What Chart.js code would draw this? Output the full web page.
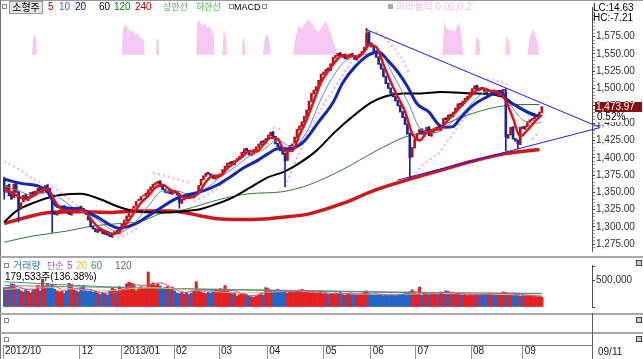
<!DOCTYPE html>
<html>
<head>
<meta charset="utf-8">
<script src="https://cdn.jsdelivr.net/npm/chart.js@4.4.1/dist/chart.umd.min.js"></script>
<style>
  body { margin: 0; background: #fff; }
  #wrap { position: relative; width: 643px; height: 359px; overflow: hidden; background: #fff;
          font-family: 'Liberation Sans', 'Noto Sans CJK KR', sans-serif; font-size: 10px; }
  canvas { position: absolute; left: 0; }
  .t { position: absolute; white-space: nowrap; line-height: 12px; }
  .k { font-size: 9px; }
  .hl { position: absolute; left: 0; width: 643px; height: 2px; background: #a8a8a8; }
  .sq { position: absolute; width: 3px; height: 3px; border: 1px solid #888; }
  .xb { position: absolute; left: 636px; width: 4px; height: 4px; border: 1px solid #444; background: #ccc; }
</style>
</head>
<body>
<div id="wrap">
  <canvas id="priceChart" width="643" height="258" style="top:0"></canvas>
  <canvas id="volChart" width="643" height="56" style="top:258px"></canvas>
  <canvas id="axisChart" width="643" height="25" style="top:334px"></canvas>

  <div style="position:absolute;left:0;top:0;width:643px;height:1px;background:#999"></div>
  <div style="position:absolute;left:0;top:0;width:1px;height:359px;background:#777"></div>
  <div class="hl" style="top:256px"></div>
  <div class="hl" style="top:313px"></div>
  <div class="hl" style="top:332px"></div>
  <div style="position:absolute;left:592px;top:313px;width:1px;height:46px;background:#606060"></div>

  <!-- top legend -->
  <div class="sq" style="left:2px;top:4px"></div>
  <div class="t" style="left:9px;top:1px;width:32px;height:11px;border:1px solid #999;background:#e6e6e6;text-align:center">소형주</div>
  <div class="t" style="left:48px;top:1px;color:#c00000">5</div>
  <div class="t" style="left:59px;top:1px;color:#4a64b4">10</div>
  <div class="t" style="left:75px;top:1px;color:#000080">20</div>
  <div class="t" style="left:99px;top:1px;color:#000">60</div>
  <div class="t" style="left:114px;top:1px;color:#008000">120</div>
  <div class="t" style="left:135px;top:1px;color:#c00000">240</div>
  <div class="t k" style="left:163px;top:1px;color:#44b844">상한선</div>
  <div class="t k" style="left:196px;top:1px;color:#44b844">하한선</div>
  <div class="sq" style="left:229px;top:4px"></div>
  <div class="t" style="left:234px;top:1px;color:#000;font-size:9px">MACD</div>
  <div class="sq" style="left:262px;top:4px"></div>
  <div class="sq" style="left:388px;top:4px;background:#aaa;border-color:#aaa"></div>
  <div class="t" style="left:396px;top:1px;color:#f2c0ee">파라볼릭 0.02,0.2</div>
  <div class="t" style="left:593px;top:2px;color:#000">LC:14.63</div>
  <div class="t" style="left:593px;top:12px;color:#000">HC:-7.21</div>

  <!-- volume legend -->
  <div class="sq" style="left:4px;top:263px"></div>
  <div class="t" style="left:13px;top:260px;color:#3d86a8">거래량</div>
  <div class="t k" style="left:47px;top:260px;color:#b64cb6">단순</div>
  <div class="t" style="left:67px;top:260px;color:#b64cb6">5</div>
  <div class="t" style="left:76px;top:260px;color:#d4c43c">20</div>
  <div class="t" style="left:91px;top:260px;color:#3c9068">60</div>
  <div class="t" style="left:115px;top:260px;color:#666">120</div>
  <div class="t" style="left:5px;top:271px;color:#000">179,533주(136.38%)</div>
  <div class="xb" style="top:260px"></div>

  <!-- empty panels -->
  <div class="sq" style="left:4px;top:318px"></div>
  <div class="xb" style="top:317px"></div>
  <div class="sq" style="left:4px;top:337px"></div>
  <div class="xb" style="top:336px"></div>
  <div class="t" style="left:598px;top:346px;color:#202020">09/11</div>
</div>
<script>
// daily candles, index 0 = first visible day (mid Oct 2012) ... 224 = 2013/09/11
const opens = [
  1370, 1350, 1362, 1348, 1342, 1364, 1350, 1326, 1336, 1347,
  1338, 1343, 1351, 1345, 1351, 1357, 1349, 1353, 1361, 1356,
  1346, 1323, 1317, 1319, 1323, 1331, 1327, 1323, 1317, 1322,
  1328, 1323, 1330, 1327, 1323, 1319, 1311, 1301, 1298, 1292,
  1298, 1295, 1289, 1294, 1289, 1285, 1289, 1295, 1290, 1297,
  1303, 1309, 1315, 1321, 1327, 1330, 1338, 1339, 1345, 1345,
  1348, 1353, 1357, 1361, 1363, 1367, 1359, 1355, 1349, 1353,
  1347, 1353, 1350, 1347, 1334, 1339, 1345, 1341, 1347, 1342,
  1347, 1351, 1360, 1368, 1373, 1379, 1377, 1375, 1369, 1371,
  1374, 1376, 1382, 1387, 1391, 1395, 1390, 1395, 1398, 1401,
  1407, 1414, 1411, 1403, 1405, 1411, 1415, 1419, 1425, 1421,
  1427, 1432, 1438, 1431, 1421, 1417, 1411, 1406, 1396, 1411,
  1417, 1421, 1429, 1440, 1445, 1451, 1459, 1468, 1481, 1492,
  1497, 1502, 1511, 1520, 1523, 1530, 1526, 1535, 1544, 1547,
  1552, 1545, 1550, 1542, 1544, 1551, 1548, 1541, 1545, 1549,
  1553, 1560, 1582, 1566, 1561, 1555, 1546, 1536, 1529, 1518,
  1508, 1501, 1494, 1489, 1483, 1476, 1467, 1459, 1449, 1435,
  1401, 1414, 1426, 1434, 1442, 1433, 1439, 1445, 1431, 1436,
  1440, 1445, 1439, 1445, 1458, 1454, 1463, 1459, 1465, 1471,
  1479, 1475, 1481, 1485, 1488, 1494, 1499, 1505, 1497, 1502,
  1500, 1497, 1491, 1492, 1498, 1497, 1489, 1492, 1496, 1495,
  1428, 1433, 1445, 1428, 1425, 1419, 1445, 1441, 1445, 1451,
  1454, 1456, 1461, 1461, 1465
];
const closes = [
  1352, 1360, 1345, 1340, 1362, 1350, 1325, 1335, 1346, 1340,
  1344, 1350, 1346, 1352, 1356, 1350, 1354, 1360, 1355, 1345,
  1322, 1318, 1320, 1324, 1330, 1326, 1322, 1318, 1323, 1327,
  1324, 1329, 1326, 1322, 1318, 1310, 1300, 1297, 1293, 1297,
  1294, 1290, 1293, 1288, 1286, 1290, 1294, 1291, 1298, 1304,
  1310, 1316, 1322, 1326, 1330, 1337, 1340, 1344, 1346, 1349,
  1354, 1358, 1362, 1364, 1366, 1358, 1354, 1350, 1352, 1348,
  1352, 1349, 1346, 1335, 1340, 1344, 1342, 1346, 1343, 1348,
  1350, 1360, 1369, 1374, 1378, 1376, 1374, 1370, 1372, 1375,
  1377, 1383, 1388, 1392, 1394, 1391, 1396, 1399, 1402, 1408,
  1413, 1410, 1404, 1406, 1412, 1416, 1420, 1424, 1422, 1428,
  1433, 1437, 1430, 1420, 1416, 1410, 1405, 1395, 1412, 1418,
  1420, 1430, 1441, 1446, 1452, 1460, 1469, 1482, 1493, 1498,
  1503, 1512, 1521, 1524, 1528, 1527, 1536, 1545, 1548, 1551,
  1546, 1549, 1543, 1545, 1550, 1547, 1542, 1546, 1550, 1554,
  1560, 1580, 1565, 1560, 1554, 1545, 1535, 1528, 1517, 1507,
  1500, 1493, 1488, 1482, 1475, 1466, 1458, 1448, 1434, 1400,
  1415, 1427, 1435, 1441, 1434, 1440, 1444, 1432, 1437, 1441,
  1444, 1440, 1446, 1457, 1455, 1462, 1460, 1466, 1472, 1478,
  1476, 1482, 1486, 1489, 1495, 1500, 1504, 1498, 1501, 1499,
  1496, 1492, 1493, 1497, 1496, 1490, 1493, 1497, 1499, 1430,
  1434, 1444, 1427, 1424, 1420, 1444, 1442, 1446, 1452, 1455,
  1457, 1460, 1462, 1466, 1473.97
];
// long shadows that stand out: [index, low, high]
const wicks = [
  [0, 1340, 1372], [6, 1307, 1352], [20, 1292, 1346], [73, 1327, 1348], [117, 1358, 1407],
  [151, 1560, 1587], [169, 1372, 1436], [209, 1410, 1500], [214, 1413, 1426]
];
// volume in thousands of shares
const volumes = [
  360, 350, 370, 430, 420, 350, 330, 300, 280, 320,
  290, 260, 310, 330, 400, 300, 515, 380, 440, 390,
  420, 330, 300, 280, 290, 250, 300, 440, 420, 320,
  300, 280, 360, 400, 310, 290, 320, 270, 300, 260,
  230, 260, 250, 220, 290, 360, 330, 300, 380, 340,
  310, 430, 460, 440, 420, 300, 340, 380, 350, 370,
  650, 420, 450, 400, 430, 390, 330, 360, 380, 350,
  370, 300, 260, 250, 280, 240, 270, 230, 260, 300,
  470, 290, 280, 260, 250, 270, 260, 300, 330, 320,
  340, 330, 400, 290, 280, 250, 270, 200, 230, 240,
  250, 230, 200, 190, 180, 210, 230, 250, 220, 360,
  340, 300, 280, 310, 330, 290, 300, 270, 260, 280,
  300, 270, 290, 300, 330, 280, 310, 290, 270, 300,
  260, 280, 290, 250, 270, 230, 240, 250, 260, 240,
  270, 230, 220, 250, 260, 240, 230, 220, 240, 230,
  290, 300, 250, 230, 220, 240, 230, 220, 210, 230,
  220, 240, 230, 210, 220, 240, 230, 250, 260, 280,
  320, 270, 240, 370, 220, 250, 240, 230, 260, 240,
  250, 230, 280, 270, 300, 290, 260, 270, 250, 240,
  230, 220, 240, 210, 230, 220, 250, 240, 230, 220,
  240, 230, 260, 250, 230, 220, 240, 260, 280, 270,
  250, 240, 230, 260, 220, 200, 230, 210, 220, 200,
  210, 200, 190, 200, 179.533
];

// moving averages: [index, value]
const ma5Pts = [[0,1355],[3,1350],[6,1344],[9,1340],[12,1345],[15,1352],[18,1355],[21,1338],[24,1325],[27,1323],
  [30,1323],[33,1325],[36,1312],[39,1300],[42,1294],[45,1290],[48,1294],[51,1305],[54,1320],[57,1335],[60,1345],
  [63,1357],[66,1361],[69,1354],[72,1350],[75,1342],[78,1343],[81,1349],[84,1365],[87,1374],[90,1374],[93,1385],
  [96,1393],[99,1401],[102,1409],[105,1409],[108,1419],[111,1429],[114,1427],[117,1410],[120,1410],[123,1433],
  [126,1455],[129,1482],[132,1509],[135,1525],[138,1539],[141,1548],[144,1547],[147,1546],[150,1553],[152,1563],
  [155,1560],[158,1535],[161,1510],[164,1488],[167,1467],[170,1435],[173,1425],[176,1436],[179,1440],[182,1443],
  [185,1455],[188,1466],[191,1477],[194,1488],[197,1498],[200,1500],[203,1496],[206,1494],[209,1482],[212,1457],
  [215,1431],[218,1440],[221,1452],[224,1462]];
const ma10Pts = [[0,1360],[6,1352],[12,1346],[18,1350],[24,1340],[30,1325],[36,1318],[42,1302],[48,1292],[54,1305],
  [60,1330],[66,1352],[72,1352],[78,1346],[84,1355],[90,1372],[96,1386],[102,1402],[108,1412],[114,1425],[120,1415],
  [126,1437],[132,1485],[138,1523],[144,1545],[150,1549],[156,1555],[162,1520],[168,1482],[174,1440],[180,1437],
  [186,1450],[192,1468],[198,1490],[204,1498],[210,1480],[216,1455],[222,1450],[224,1452]];
const ma20Pts = [[0,1369],[7,1363],[15,1358],[18,1351],[22,1330],[32,1326],[36,1319],[40,1312],[44,1303],[48,1298],
  [52,1301],[55,1305],[60,1316],[65,1327],[71,1340],[77,1347],[82,1351],[89,1361],[94,1372],[100,1386],[106,1397],
  [110,1406],[114,1413],[119,1413],[125,1424],[131,1452],[137,1480],[141,1508],[146,1531],[152,1549],[156,1553],
  [160,1540],[164,1524],[168,1503],[172,1478],[177,1466],[181,1448],[184,1444],[187,1445],[190,1457],[195,1475],
  [200,1486],[207,1496],[209,1485],[214,1474],[219,1464],[223,1459]];
const ma60Pts = [[0,1307],[5,1323],[13,1336],[19,1343],[25,1347],[32,1348],[40,1340],[47,1330],[54,1323],[61,1321],
  [68,1321],[75,1323],[82,1326],[89,1334],[96,1344],[103,1358],[110,1372],[116,1379],[121,1388],[130,1410],
  [138,1438],[146,1462],[153,1480],[159,1489],[166,1493],[173,1493],[182,1495],[195,1493],[202,1492],[209,1486],
  [214,1473],[220,1464],[223,1460]];
const ma120Pts = [[0,1278],[12,1287],[26,1294],[36,1301],[48,1305],[57,1308],[65,1319],[75,1325],[82,1332],[90,1340],
  [102,1348],[116,1351],[127,1361],[141,1383],[155,1410],[167,1430],[173,1435],[181,1445],[188,1455],[195,1464],
  [202,1471],[208,1475],[215,1477],[223,1477]];
const ma240Pts = [[0,1305],[7,1312],[19,1321],[32,1322],[44,1321],[55,1323],[68,1323],[75,1321],[82,1316],[89,1312],
  [96,1311],[103,1311],[110,1312],[116,1314],[127,1319],[141,1334],[155,1354],[168,1368],[181,1381],[195,1395],
  [209,1406],[223,1412]];
// parabolic SAR runs (one array per trend)
const sarRuns = [
  [[0,1395],[5,1386],[11,1372],[15,1365]],
  [[18,1362],[23,1351],[28,1338],[33,1323],[40,1309],[44,1302]],
  [[47,1285],[50,1288],[53,1293],[56,1300]],
  [[62,1378],[66,1375],[71,1370],[77,1364]],
  [[79,1337],[84,1345],[89,1356],[96,1378],[103,1393],[110,1406]],
  [[112,1444],[116,1440]],
  [[117,1358],[122,1400],[126,1432],[130,1458],[134,1482],[138,1503],[142,1525],[145,1540],[149,1551]],
  [[155,1582],[159,1572],[163,1556],[166,1542],[169,1520]],
  [[170,1372],[175,1392],[181,1406],[185,1425],[190,1450],[195,1470]],
  [[201,1514],[204,1512],[207,1510],[210,1506]],
  [[220,1427],[223,1438]]
];
// MACD shading at the top of the price pane: [index, height]
const macdPts = [[0,0],[11.5,0],[12,14],[12.5,22],[13.3,16],[13.7,0],
  [49,0],[49.5,28],[50.5,32],[51.5,28],[52.5,24],[53.5,26],[54.5,21],[55.5,22],[56.5,18],[57.5,17],[58.3,15],[58.5,0],
  [63.2,0],[63.6,19],[64.3,14],[64.6,0],
  [80,0],[80.5,37],[81.5,34],[82.5,30],[83.5,33],[84.5,28],[85.5,30],[86.5,26],[87.3,20],[87.6,0],
  [90.8,0],[91.5,27],[92.3,20],[92.9,0],
  [99,0],[99.5,20],[100.3,12],[100.5,0],
  [107.8,0],[108.5,16],[109.5,22],[110.5,14],[111,0],
  [120.3,0],[121.5,20],[122.5,30],[124,27],[125,32],[126,35],[127,37],[128,33],[129,30],[130,26],[131,24],[132,28],
  [133,32],[134,35],[135,30],[136,22],[137.5,12],[139,0],
  [182.5,0],[183.3,35],[184.2,28],[185.5,25],[186.5,27],[187.5,24],[188.5,28],[189.6,34],[190.5,20],[191.2,0],
  [196.2,0],[196.8,20],[197.8,16],[198.4,0],
  [208.7,0],[209.3,20],[210.3,14],[210.9,0],
  [218,0],[219,18],[220.3,27],[221.5,18],[222.5,10],[222.9,0],[224,0]];
// triangle trend lines [index, price]
const upperLine = [[150.4,1586],[248.3,1443.7]];
const lowerLine = [[163.75,1367.6],[248.3,1443.7]];
// volume averages (thousands)
const vol5Pts = [[0,360],[5,380],[10,320],[15,350],[20,420],[25,300],[30,340],[35,330],[40,270],[45,260],[50,330],
  [55,410],[60,400],[65,450],[70,360],[75,270],[80,300],[85,300],[90,300],[95,310],[100,230],[105,210],[110,290],
  [115,300],[120,280],[125,300],[130,280],[135,250],[140,250],[145,245],[150,240],[155,245],[160,225],[165,225],
  [170,290],[175,250],[180,240],[185,270],[190,250],[195,225],[200,230],[205,250],[210,255],[215,230],[220,210],[224,195]];
const vol20Pts = [[0,330],[20,360],[40,300],[60,360],[80,310],[100,260],[120,290],[140,250],[160,230],[180,250],[200,240],[224,215]];
const vol60Pts = [[0,470],[40,380],[80,330],[120,300],[160,270],[200,250],[224,245]];
const vol120Pts = [[0,400],[60,350],[120,310],[180,270],[224,255]];

const priceTicks = [1275, 1300, 1325, 1350, 1375, 1400, 1425, 1450, 1475, 1500, 1525, 1550, 1575];
const monthLabels = ['2012/10', '12', '2013/01', '02', '03', '04', '05', '06', '07', '08', '09'];
const monthIdx = [-0.5, 31.5, 49, 70.75, 89.5, 109.6, 133, 152.7, 171.4, 194.5, 216];

const X_MIN = -0.5, X_MAX = 244.9;
const UP = '#b4141e', DOWN = '#1c2890';
const toPts = arr => arr.map(([x, y]) => ({ x, y }));
const fmt2 = v => v.toLocaleString('en-US', { minimumFractionDigits: 2, maximumFractionDigits: 2 });
const axisFont = { family: 'Liberation Sans', size: 10 };

const sarData = [];
sarRuns.forEach((run, k) => {
  if (k) sarData.push({ x: run[0][0] - 0.5, y: null });
  run.forEach(([x, y]) => sarData.push({ x, y }));
});

const bodyColors = closes.map((c, i) => c >= opens[i] ? UP : DOWN);
const line = (data, color, width, order, extra) => Object.assign({
  type: 'line', yAxisID: 'y', data: toPts(data), borderColor: color, borderWidth: width, pointRadius: 0,
  cubicInterpolationMode: 'monotone', order
}, extra || {});

const lastPrice = {
  id: 'lastPrice',
  afterDraw(chart) {
    const ys = chart.scales.y;
    const py = Math.round(ys.getPixelForValue(closes[closes.length - 1]));
    const ctx = chart.ctx;
    ctx.save();
    ctx.fillStyle = '#860f0f';
    ctx.fillRect(ys.left + 3, py - 5, 47, 10);
    ctx.font = '10px Liberation Sans';
    ctx.textBaseline = 'middle';
    ctx.fillStyle = '#fff';
    ctx.fillText(fmt2(closes[closes.length - 1]), ys.left + 4, py);
    ctx.fillRect(ys.left + 4, py + 6, 28, 9);
    ctx.fillStyle = '#000';
    ctx.fillText('0.52%', ys.left + 5, py + 10);
    ctx.restore();
  }
};

const minorTicks = [];
for (let v = priceTicks[0] - 5; v <= priceTicks[priceTicks.length - 1] + 40; v += 5) minorTicks.push(v);

new Chart(document.getElementById('priceChart'), {
  type: 'bar',
  data: {
    datasets: [
      line(upperLine, '#1a1aff', 1, 0, { clip: false, cubicInterpolationMode: 'default', tension: 0 }),
      line(lowerLine, '#1a1aff', 1, 0, { clip: false, cubicInterpolationMode: 'default', tension: 0 }),
      line(ma5Pts, '#e01414', 2.5, 1),
      line(ma20Pts, '#1428b4', 3, 2),
      line(ma10Pts, '#6a86b8', 1, 3),
      {
        type: 'bar', yAxisID: 'y', order: 4, grouped: false, barThickness: 2,
        data: closes.map((c, i) => ({ x: i, y: [opens[i], c] })),
        backgroundColor: bodyColors
      },
      {
        type: 'bar', yAxisID: 'y', order: 5, grouped: false, barThickness: 1,
        data: wicks.map(([i, lo, hi]) => ({ x: i, y: [lo, hi] })),
        backgroundColor: wicks.map(([i]) => bodyColors[i])
      },
      line(ma60Pts, '#000000', 2, 6),
      line(ma120Pts, '#2e7d32', 1, 7),
      line(ma240Pts, '#d01818', 3.5, 8),
      line([], '#f3b6ef', 2.5, 9, { data: sarData, borderDash: [2, 3], spanGaps: false, cubicInterpolationMode: 'default', tension: 0 }),
      line(macdPts, 'rgba(0,0,0,0)', 0, 10, {
        yAxisID: 'm', fill: { value: 0 }, backgroundColor: '#f6c8f3', cubicInterpolationMode: 'default', tension: 0
      })
    ]
  },
  options: {
    responsive: false, animation: false, events: [],
    layout: { padding: { left: 3, top: 2, right: 0, bottom: 1 } },
    plugins: { legend: { display: false }, tooltip: { enabled: false } },
    scales: {
      x: { type: 'linear', min: X_MIN, max: X_MAX, offset: false, display: false, grid: { offset: false } },
      y: {
        position: 'right', min: 1265.3, max: 1617.9,
        afterFit: s => { s.width = 51; },
        afterBuildTicks: s => { s.ticks = minorTicks.map(v => ({ value: v })); },
        border: { color: '#505050' },
        grid: {
          drawOnChartArea: false, tickLength: 3,
          tickColor: c => (c.tick && priceTicks.includes(c.tick.value)) ? '#404040' : '#999'
        },
        ticks: {
          autoSkip: false, padding: 1, color: '#303030', font: axisFont,
          callback: v => priceTicks.includes(v) ? fmt2(v) : ''
        }
      },
      m: { min: -205, max: 50, display: false }
    }
  },
  plugins: [lastPrice]
});

new Chart(document.getElementById('volChart'), {
  type: 'bar',
  data: {
    datasets: [
      line(vol5Pts, '#c04cc0', 1, 1),
      line(vol20Pts, '#d8c84a', 1, 2),
      line(vol60Pts, '#3c9a6c', 1, 3),
      line(vol120Pts, '#8a8a8a', 1, 4),
      {
        type: 'bar', yAxisID: 'y', order: 5, grouped: false, barThickness: 2.4,
        data: volumes.map((v, i) => ({ x: i, y: v })),
        backgroundColor: closes.map((c, i) => c >= opens[i] ? '#e42020' : '#2364c8')
      }
    ]
  },
  options: {
    responsive: false, animation: false, events: [],
    layout: { padding: { left: 3, top: 1, right: 0, bottom: 2 } },
    plugins: { legend: { display: false }, tooltip: { enabled: false } },
    scales: {
      x: { type: 'linear', min: X_MIN, max: X_MAX, offset: false, display: false, grid: { offset: false } },
      y: {
        position: 'right', min: 0, max: 780,
        afterFit: s => { s.width = 51; },
        afterBuildTicks: s => { s.ticks = [0, 500, 750].map(v => ({ value: v })); },
        border: { color: '#505050' },
        grid: { drawOnChartArea: false, tickLength: 3, tickColor: '#404040' },
        ticks: {
          autoSkip: false, padding: 1, color: '#303030', font: axisFont,
          callback: v => v === 500 ? '500,000' : ''
        }
      }
    }
  }
});

new Chart(document.getElementById('axisChart'), {
  type: 'line',
  data: { datasets: [{ data: [] }] },
  options: {
    responsive: false, animation: false, events: [],
    layout: { padding: { left: 3, top: 0, right: 51, bottom: 0 } },
    plugins: { legend: { display: false }, tooltip: { enabled: false } },
    scales: {
      x: {
        type: 'linear', min: X_MIN, max: X_MAX, position: 'bottom',
        afterFit: s => { s.height = 14; },
        afterBuildTicks: s => { s.ticks = monthIdx.map(v => ({ value: v })); },
        border: { color: '#808080' },
        grid: { drawOnChartArea: false, tickLength: 14, tickColor: '#909090' },
        ticks: {
          autoSkip: false, maxRotation: 0, align: 'start', labelOffset: 2, padding: -13.5,
          color: '#202020', font: axisFont,
          callback: (v, i) => monthLabels[i]
        }
      },
      y: { display: false, min: 0, max: 1 }
    }
  }
});
</script>
</body>
</html>
